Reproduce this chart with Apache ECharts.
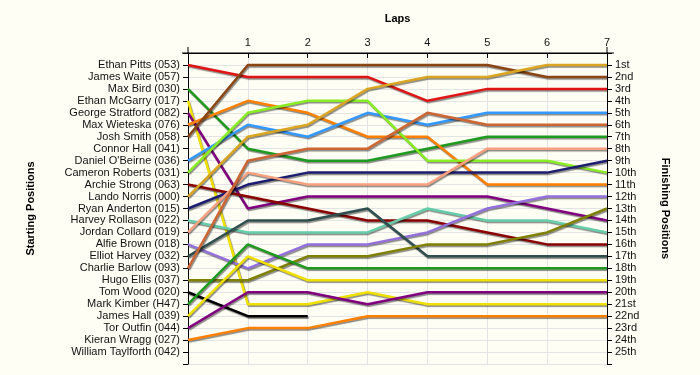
<!DOCTYPE html>
<html>
<head>
<meta charset="utf-8">
<script src="https://cdn.jsdelivr.net/npm/echarts@6/dist/echarts.min.js"></script>
<style>
html,body{margin:0;padding:0;background:#fefef4;}
#c{width:700px;height:375px;}
</style>
</head>
<body>
<div id="c"></div>
<script>
// ---- data ----
const laps = [0, 1, 2, 3, 4, 5, 6, 7];
const lapLabels = ['', '1', '2', '3', '4', '5', '6', '7'];
const startNames = [
  'Ethan Pitts (053)', 'James Waite (057)', 'Max Bird (030)', 'Ethan McGarry (017)',
  'George Stratford (082)', 'Max Wieteska (076)', 'Josh Smith (058)', 'Connor Hall (041)',
  "Daniel O'Beirne (036)", 'Cameron Roberts (031)', 'Archie Strong (063)', 'Lando Norris (000)',
  'Ryan Anderton (015)', 'Harvey Rollason (022)', 'Jordan Collard (019)', 'Alfie Brown (018)',
  'Elliot Harvey (032)', 'Charlie Barlow (093)', 'Hugo Ellis (037)', 'Tom Wood (020)',
  'Mark Kimber (H47)', 'James Hall (039)', 'Tor Outfin (044)', 'Kieran Wragg (027)',
  'William Taylforth (042)'
];
const finishLabels = [
  '1st','2nd','3rd','4th','5th','6th','7th','8th','9th','10th','11th','12th','13th',
  '14th','15th','16th','17th','18th','19th','20th','21st','22nd','23rd','24th','25th'
];

// positions per lap (lap 0 = start)
const ethanPitts      = [1, 2, 2, 2, 4, 3, 3, 3];
const maxBird         = [3, 8, 9, 9, 8, 7, 7, 7];
const ethanMcGarry    = [4, 21, 21, 20, 21, 21, 21, 21];
const georgeStratford = [5, 13, 12, 12, 12, 12, 13, 14];
const maxWieteska     = [6, 4, 5, 7, 7, 11, 11, 11];
const joshSmith       = [7, 1, 1, 1, 1, 1, 2, 2];
const danielOBeirne   = [9, 6, 7, 5, 6, 5, 5, 5];
const cameronRoberts  = [10, 5, 4, 4, 9, 9, 9, 10];
const archieStrong    = [11, 12, 13, 14, 14, 15, 16, 16];
const landoNorris     = [12, 7, 6, 3, 2, 2, 1, 1];
const ryanAnderton    = [13, 11, 10, 10, 10, 10, 10, 9];
const harveyRollason  = [14, 15, 15, 15, 13, 14, 14, 15];
const jordanCollard   = [15, 10, 11, 11, 11, 8, 8, 8];
const alfieBrown      = [16, 18, 16, 16, 15, 13, 12, 12];
const elliotHarvey    = [17, 14, 14, 13, 17, 17, 17, 17];
const charlieBarlow   = [18, 9, 8, 8, 5, 6, 6, 6];
const hugoEllis       = [19, 19, 17, 17, 16, 16, 15, 13];
const tomWood         = [20, 22, 22];
const markKimber      = [21, 16, 18, 18, 18, 18, 18, 18];
const jamesHall       = [22, 17, 19, 19, 19, 19, 19, 19];
const torOutfin       = [23, 20, 20, 21, 20, 20, 20, 20];
const kieranWragg     = [24, 23, 23, 22, 22, 22, 22, 22];

const drivers = [
  ['Ethan Pitts (053)', ethanPitts, '#e01414'],
  ['Max Bird (030)', maxBird, '#1e9a1e'],
  ['Ethan McGarry (017)', ethanMcGarry, '#f0e000'],
  ['George Stratford (082)', georgeStratford, '#800080'],
  ['Max Wieteska (076)', maxWieteska, '#ff8000'],
  ['Josh Smith (058)', joshSmith, '#8b4513'],
  ["Daniel O'Beirne (036)", danielOBeirne, '#3399ff'],
  ['Cameron Roberts (031)', cameronRoberts, '#88ee22'],
  ['Archie Strong (063)', archieStrong, '#8b0000'],
  ['Lando Norris (000)', landoNorris, '#daa520'],
  ['Ryan Anderton (015)', ryanAnderton, '#1c1c70'],
  ['Harvey Rollason (022)', harveyRollason, '#66cdaa'],
  ['Jordan Collard (019)', jordanCollard, '#f8a080'],
  ['Alfie Brown (018)', alfieBrown, '#9370db'],
  ['Elliot Harvey (032)', elliotHarvey, '#2f4f4f'],
  ['Charlie Barlow (093)', charlieBarlow, '#cd6633'],
  ['Hugo Ellis (037)', hugoEllis, '#808000'],
  ['Tom Wood (020)', tomWood, '#000000'],
  ['Mark Kimber (H47)', markKimber, '#1e9a1e'],
  ['James Hall (039)', jamesHall, '#f0e000'],
  ['Tor Outfin (044)', torOutfin, '#800080'],
  ['Kieran Wragg (027)', kieranWragg, '#ff8000']
];

// ---- chart ----
const chart = echarts.init(document.getElementById('c'), null, {renderer: 'canvas'});
const font = 'Liberation Sans, Arial, sans-serif';
const textColor = '#111';

const yBase = {
  type: 'value', min: 0, max: 26, interval: 1, inverse: true,
  nameLocation: 'middle',
  nameTextStyle: {fontFamily: font, fontSize: 11, fontWeight: 'bold', color: '#000'},
  axisLine: {show: true, lineStyle: {color: '#000', width: 1}},
  axisTick: {show: true, inside: false, length: 5, lineStyle: {color: '#000'}},
  splitLine: {show: false}
};

chart.setOption({
  animation: false,
  backgroundColor: '#fefef4',
  grid: {left: 188, right: 93, top: 53, bottom: 11, containLabel: false},
  xAxis: {
    type: 'value', position: 'top', min: 0, max: 7, interval: 1,
    name: 'Laps', nameLocation: 'middle', nameGap: 29,
    nameTextStyle: {fontFamily: font, fontSize: 11, fontWeight: 'bold', color: '#000'},
    axisLine: {show: true, lineStyle: {color: '#000', width: 1}},
    axisTick: {show: true, inside: true, length: 5, lineStyle: {color: '#000'}},
    axisLabel: {fontFamily: font, fontSize: 11, color: textColor, margin: 5,
      formatter: v => lapLabels[v] || ''},
    splitLine: {show: true, lineStyle: {color: '#e4e4e4', width: 1}}
  },
  yAxis: [
    Object.assign({}, yBase, {
      position: 'left', name: 'Starting Positions', nameGap: 152, nameRotate: 90,
      axisLabel: {fontFamily: font, fontSize: 11, color: textColor, margin: 8,
        formatter: v => (v >= 1 && v <= 25) ? startNames[v - 1] : ''},
      splitLine: {show: true, lineStyle: {color: '#e4e4e4', width: 1}}
    }),
    Object.assign({}, yBase, {
      position: 'right', name: 'Finishing Positions', nameGap: 53, nameRotate: -90,
      axisLabel: {fontFamily: font, fontSize: 11, color: textColor, margin: 8,
        formatter: v => (v >= 1 && v <= 25) ? finishLabels[v - 1] : ''}
    })
  ],
  series: drivers.map(([name, pos, color]) => ({
    name: name, type: 'line', yAxisIndex: 0, symbol: 'none',
    data: pos.map((p, i) => [laps[i], p]),
    lineStyle: {color: color, width: 2.5, shadowColor: 'rgba(0,0,0,0.45)',
      shadowBlur: 1, shadowOffsetX: 1, shadowOffsetY: 1.5},
    itemStyle: {color: color},
    z: 3
  }))
});

// axis-line overhangs (decoration at the frame corners)
const tl = chart.convertToPixel({xAxisIndex: 0, yAxisIndex: 0}, [laps[0], 0]);
const tr = chart.convertToPixel({xAxisIndex: 0, yAxisIndex: 0}, [laps[laps.length - 1], 0]);
const ls = {stroke: '#000', lineWidth: 1};
chart.setOption({
  graphic: [
    {type: 'line', shape: {x1: tl[0] - 6, y1: tl[1], x2: tr[0] + 7, y2: tr[1]}, style: ls, z: 10},
    {type: 'line', shape: {x1: tl[0], y1: tl[1] - 6, x2: tl[0], y2: tl[1]}, style: ls, z: 10},
    {type: 'line', shape: {x1: tr[0], y1: tr[1] - 6, x2: tr[0], y2: tr[1]}, style: ls, z: 10}
  ]
});
</script>
</body>
</html>
